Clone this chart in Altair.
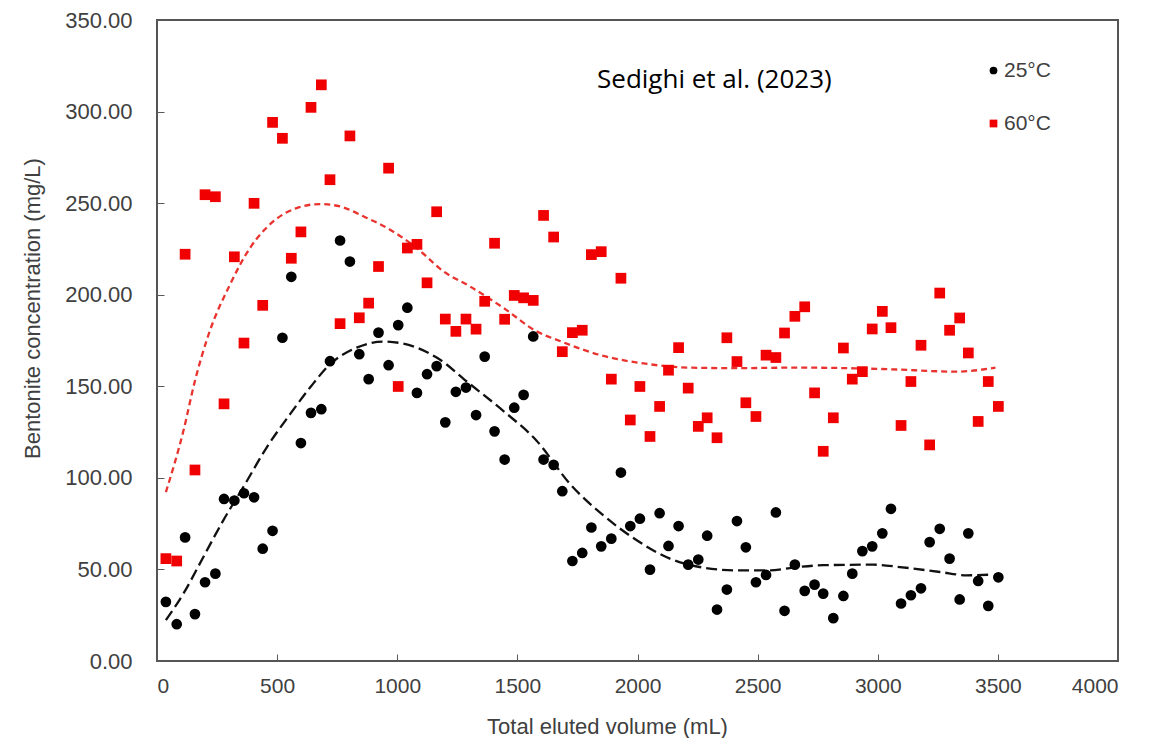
import altair as alt
import pandas as pd

# Total eluted volume (mL) – sampling points shared by both series
volume = [37, 82, 117, 158, 200, 243, 279, 322, 362, 404, 440, 481, 522, 559, 599, 641, 684, 720,
          762, 803, 842, 881, 922, 964, 1004, 1042, 1082, 1124, 1164, 1200, 1244, 1286, 1328, 1364,
          1405, 1447, 1487, 1526, 1566, 1609, 1651, 1687, 1729, 1770, 1808, 1849, 1891, 1931, 1970,
          2010, 2052, 2092, 2129, 2171, 2211, 2253, 2290, 2331, 2372, 2414, 2451, 2493, 2535, 2576,
          2612, 2655, 2696, 2737, 2773, 2815, 2857, 2894, 2936, 2977, 3019, 3055, 3097, 3138, 3180,
          3216, 3258, 3299, 3341, 3377, 3418, 3460, 3502]

# Bentonite concentration (mg/L) at 25 °C
conc_25 = [32.3, 20.1, 67.5, 25.6, 43.0, 47.7, 88.5, 87.6, 91.6, 89.4, 61.3, 71.1, 176.5, 209.8,
           119.0, 135.5, 137.5, 163.7, 229.6, 218.1, 167.5, 153.9, 179.3, 161.5, 183.4, 192.9, 146.4,
           156.6, 161.0, 130.3, 147.0, 149.3, 134.3, 166.2, 125.4, 110.0, 138.3, 145.3, 177.2, 110.0,
           107.1, 92.7, 54.6, 59.0, 72.9, 62.6, 66.8, 102.9, 73.7, 77.7, 49.9, 80.7, 62.8, 73.7, 52.6,
           55.4, 68.4, 28.1, 39.0, 76.4, 62.1, 43.0, 47.0, 81.1, 27.4, 52.6, 38.3, 41.7, 36.8, 23.4,
           35.5, 47.7, 60.0, 62.6, 69.7, 83.1, 31.4, 35.9, 39.7, 64.9, 72.2, 55.9, 33.6, 69.7, 43.7,
           30.1, 45.7]

# Bentonite concentration (mg/L) at 60 °C
conc_60 = [55.9, 54.6, 222.1, 104.3, 254.6, 253.5, 140.4, 220.7, 173.6, 249.9, 194.2, 294.1, 285.4,
           219.9, 234.3, 302.3, 314.6, 262.8, 184.2, 286.7, 187.4, 195.4, 215.4, 269.1, 149.9, 225.5,
           227.5, 206.5, 245.3, 186.7, 180.0, 186.7, 181.2, 196.4, 228.1, 186.6, 199.6, 198.3, 196.9,
           243.3, 231.5, 168.9, 179.3, 180.6, 221.9, 223.5, 153.9, 209.0, 131.6, 149.9, 122.6, 139.0,
           158.8, 171.1, 149.0, 128.1, 132.8, 121.9, 176.5, 163.5, 141.0, 133.5, 167.0, 165.7, 179.1,
           188.2, 193.4, 146.4, 114.5, 132.8, 170.9, 153.9, 158.0, 181.3, 190.9, 182.0, 128.6, 152.6,
           172.4, 118.0, 200.9, 180.6, 187.3, 168.2, 130.8, 152.6, 139.0]

# Dashed trend curves
fit25_x = [37, 110, 193, 276, 359, 457, 554, 637, 720, 831, 942, 1025, 1164, 1303, 1441, 1580,
           1719, 1858, 1997, 2135, 2274, 2413, 2551, 2648, 2773, 2981, 3092, 3259, 3370, 3480]
fit25_y = [22.3, 36.8, 56.8, 76.8, 94.9, 116.7, 134.8, 149.3, 162.0, 171.1, 174.4, 173.3, 165.7,
           151.2, 136.6, 120.3, 96.7, 79.5, 65.9, 55.9, 51.0, 49.5, 49.5, 51.0, 52.3, 52.6, 51.3,
           48.6, 46.8, 47.2]

fit60_x = [37, 110, 158, 214, 304, 387, 484, 581, 678, 762, 859, 970, 1081, 1192, 1303, 1441,
           1580, 1677, 1858, 2052, 2205, 2413, 2676, 3051, 3328, 3490]
fit60_y = [92.2, 125.7, 153.0, 178.0, 205.6, 225.5, 240.0, 247.3, 249.5, 248.2, 242.8, 235.5,
           225.5, 212.8, 204.5, 192.9, 180.0, 174.7, 166.6, 162.0, 160.2, 159.9, 160.2, 159.3,
           158.0, 160.2]

series_names = ["25°C", "60°C"]
series_colors = ["#000000", "#f00000"]
series_shapes = ["circle", "square"]

x_ticks = [0, 500, 1000, 1500, 2000, 2500, 3000, 3500, 4000]
y_ticks = [0, 50, 100, 150, 200, 250, 300, 350]

annotation = "Sedighi et al. (2023)"

points = pd.concat([
    pd.DataFrame({"volume": volume, "conc": conc_25, "series": series_names[0]}),
    pd.DataFrame({"volume": volume, "conc": conc_60, "series": series_names[1]}),
])
fit25 = pd.DataFrame({"volume": fit25_x, "conc": fit25_y})
fit60 = pd.DataFrame({"volume": fit60_x, "conc": fit60_y})

FONT = "Liberation Sans"
GREY = "#595959"
TEXT = "#404040"

x_enc = alt.X(
    "volume:Q",
    scale=alt.Scale(domain=[0, 4000], nice=False),
    axis=alt.Axis(
        values=x_ticks, format="d", title="Total eluted volume (mL)",
        orient="bottom", offset=-7, tickSize=7, domain=False, grid=False,
        tickColor=GREY, labelFont=FONT, labelFontSize=21, labelColor=TEXT,
        labelPadding=14, titleFont=FONT, titleFontSize=22, titleFontWeight="normal",
        titleColor=TEXT, titleX=450, titleY=72, titleBaseline="middle",
        titleAlign="center",
    ),
)
y_enc = alt.Y(
    "conc:Q",
    scale=alt.Scale(domain=[0, 350], nice=False),
    axis=alt.Axis(
        values=y_ticks, format=".2f", title="Bentonite concentration (mg/L)",
        orient="left", offset=-7, tickSize=7, domain=False, grid=False,
        tickColor=GREY, labelFont=FONT, labelFontSize=22, labelColor=TEXT,
        labelPadding=25, titleFont=FONT, titleFontSize=22, titleFontWeight="normal",
        titleColor=TEXT, titleX=-132, titleY=288, titleAngle=-90,
        titleBaseline="middle", titleAlign="center",
    ),
)

legend = alt.Legend(
    title=None, orient="none", legendX=826, legendY=40,
    labelFont=FONT, labelFontSize=21, labelColor=TEXT,
    symbolSize=60, rowPadding=31, labelOffset=0, symbolStrokeWidth=0,
)

scatter = alt.Chart(points).mark_point(filled=True, opacity=1, size=115).encode(
    x=x_enc,
    y=y_enc,
    color=alt.Color("series:N",
                    scale=alt.Scale(domain=series_names, range=series_colors),
                    legend=legend),
    shape=alt.Shape("series:N",
                    scale=alt.Scale(domain=series_names, range=series_shapes),
                    legend=legend),
)

line60 = alt.Chart(fit60).mark_line(
    color="#e8332f", strokeWidth=2.3, strokeDash=[6, 4], interpolate="monotone"
).encode(x="volume:Q", y="conc:Q")

line25 = alt.Chart(fit25).mark_line(
    color="#111111", strokeWidth=2.3, strokeDash=[11, 5], interpolate="monotone"
).encode(x="volume:Q", y="conc:Q")

label = alt.Chart(pd.DataFrame({"t": [annotation]})).mark_text(
    font="Open Sans", fontSize=26, color="#000000", align="center", baseline="middle"
).encode(x=alt.datum(2320), y=alt.datum(317), text="t:N")

chart = alt.layer(line60, line25, scatter, label).properties(
    width=961,
    height=641,
    padding={"left": 149, "top": 12, "right": 10, "bottom": 78},
    autosize=alt.AutoSizeParams(type="none"),
    background="white",
).configure_view(
    stroke="#555555", strokeWidth=2
)

chart.save("out.html", embed_options={"renderer": "svg", "actions": False})
